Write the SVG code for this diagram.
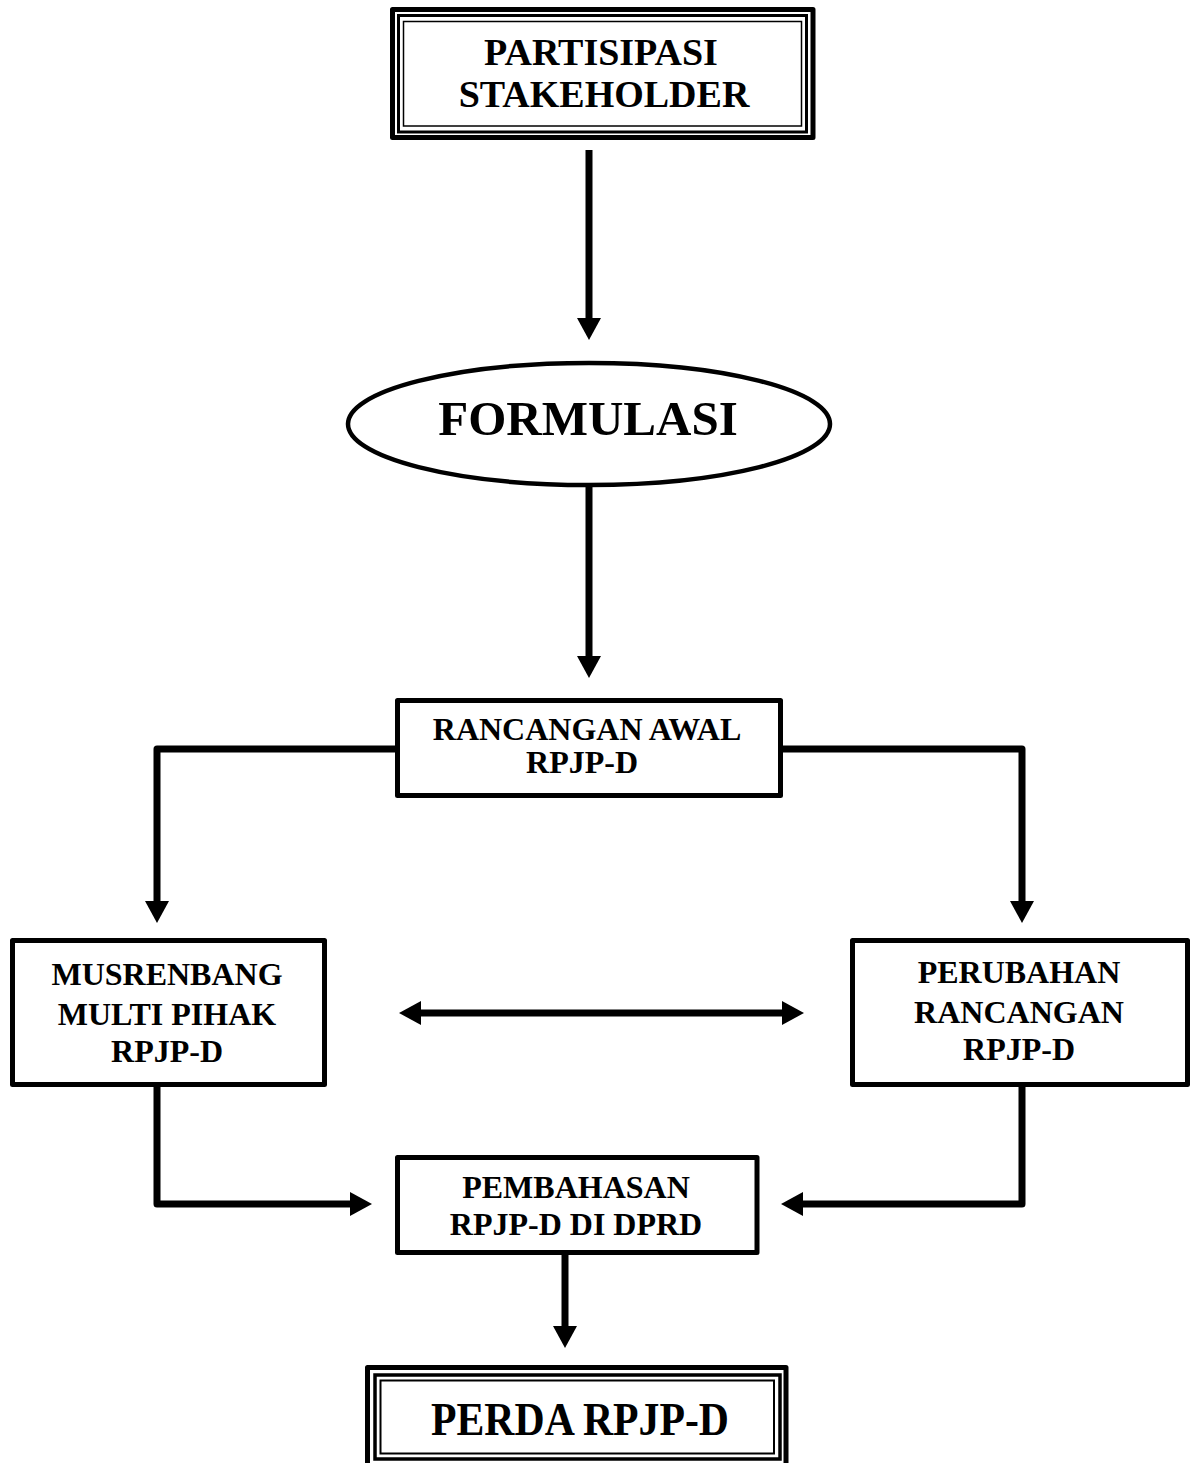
<svg xmlns="http://www.w3.org/2000/svg" width="1191" height="1463" viewBox="0 0 1191 1463">
<defs>
<style>
.box{fill:#fff;stroke:#000;stroke-width:5;stroke-linejoin:round}
.thin{fill:none;stroke:#000}
.conn{fill:none;stroke:#000;stroke-width:7;stroke-linejoin:round}
.t{font-family:"Liberation Serif","Times New Roman",serif;font-weight:bold;fill:#000;text-anchor:middle}
.s31{font-size:32px}
</style>
<marker id="ah" viewBox="0 0 22 24" refX="0" refY="12" markerWidth="22" markerHeight="24" markerUnits="userSpaceOnUse" orient="auto-start-reverse">
<path d="M0,0 L22,12 L0,24 Z" fill="#000"/>
</marker>
</defs>
<rect width="1191" height="1463" fill="#fff"/>
<g id="connectors">
<path class="conn" d="M589,150 V318" marker-end="url(#ah)"/>
<path class="conn" d="M589,487 V656" marker-end="url(#ah)"/>
<path class="conn" d="M397,749 H157 V901" marker-end="url(#ah)"/>
<path class="conn" d="M781,749 H1022 V901" marker-end="url(#ah)"/>
<path class="conn" d="M421,1013 H782" marker-start="url(#ah)" marker-end="url(#ah)"/>
<path class="conn" d="M157,1085 V1204 H350" marker-end="url(#ah)"/>
<path class="conn" d="M1022,1085 V1204 H803" marker-end="url(#ah)"/>
<path class="conn" d="M565,1252 V1326" marker-end="url(#ah)"/>
</g>
<g id="partisipasi">
<rect class="box" x="392.5" y="9.5" width="420.5" height="128"/>
<rect class="thin" stroke-width="3" x="398.5" y="15.5" width="408" height="116.5"/>
<rect class="thin" stroke-width="1.5" x="403.5" y="21.5" width="398" height="104.5"/>
<text class="t" font-size="38" x="601" y="65">PARTISIPASI</text>
<text class="t" font-size="38" x="604" y="107">STAKEHOLDER</text>
</g>
<g id="formulasi">
<ellipse cx="589" cy="424" rx="241" ry="61" fill="#fff" stroke="#000" stroke-width="4.5"/>
<text class="t" font-size="49" x="588" y="435">FORMULASI</text>
</g>
<g id="rancangan">
<rect class="box" x="397.5" y="700.5" width="383" height="95"/>
<text class="t s31" x="587" y="740">RANCANGAN AWAL</text>
<text class="t s31" x="582" y="773">RPJP-D</text>
</g>
<g id="musrenbang">
<rect class="box" x="12.5" y="940.5" width="312" height="144"/>
<text class="t s31" x="167" y="985">MUSRENBANG</text>
<text class="t s31" x="167" y="1025">MULTI PIHAK</text>
<text class="t s31" x="167" y="1062">RPJP-D</text>
</g>
<g id="perubahan">
<rect class="box" x="852.5" y="940.5" width="335" height="144"/>
<text class="t s31" x="1019" y="983">PERUBAHAN</text>
<text class="t s31" x="1019" y="1023">RANCANGAN</text>
<text class="t s31" x="1019" y="1060">RPJP-D</text>
</g>
<g id="pembahasan">
<rect class="box" x="397.5" y="1157.5" width="359.5" height="95"/>
<text class="t s31" x="576" y="1198">PEMBAHASAN</text>
<text class="t s31" x="576" y="1235">RPJP-D DI DPRD</text>
</g>
<g id="perda">
<rect class="box" x="367.5" y="1367.5" width="418.5" height="99"/>
<rect class="thin" stroke-width="3.5" x="375" y="1375" width="405" height="84"/>
<rect class="thin" stroke-width="2" x="380.5" y="1380.5" width="393.5" height="73"/>
<text class="t" font-size="46" x="580" y="1435" textLength="298" lengthAdjust="spacingAndGlyphs">PERDA RPJP-D</text>
</g>
</svg>
